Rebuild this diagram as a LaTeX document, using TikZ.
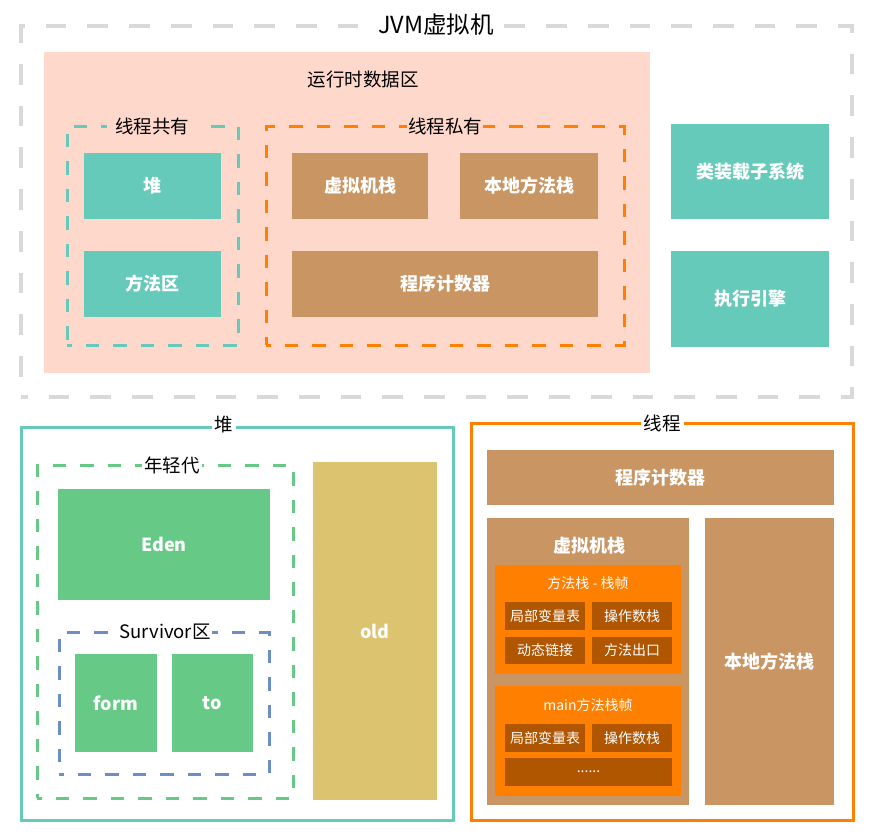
\documentclass[tikz,border=0pt]{standalone}
\usepackage{fontspec}
\setmainfont{Noto Sans CJK SC}
\definecolor{jgray}{HTML}{D9D9D9}
\definecolor{jpink}{HTML}{FFD8CC}
\definecolor{jteal}{HTML}{66CABB}
\definecolor{jorange}{HTML}{FF7F00}
\definecolor{jbrown}{HTML}{C99563}
\definecolor{jdark}{HTML}{B05500}
\definecolor{jgreen}{HTML}{66C986}
\definecolor{jmustard}{HTML}{DBC36F}
\definecolor{jblue}{HTML}{6C8EC6}
\begin{document}
\begin{tikzpicture}[x=1pt,y=-1pt,
  area/.style={draw=none,inner sep=0pt,outer sep=0pt,anchor=north west},
  filled/.style={area,text=white,font=\bfseries\fontsize{18}{20}\selectfont,align=center},
  tealbox/.style={filled,fill=jteal},
  brownbox/.style={filled,fill=jbrown},
  greenbox/.style={filled,fill=jgreen},
  framebox/.style={area,fill=jorange},
  cellbox/.style={area,fill=jdark,text=white,font=\fontsize{14}{16}\selectfont},
  frametitle/.style={text=white,font=\fontsize{14}{16}\selectfont,inner sep=0pt},
  titlelab/.style={text=black,font=\fontsize{18.5}{20}\selectfont,inner xsep=3pt,inner ysep=1pt},
  graydash/.style={area,draw=jgray,line width=4pt,dash pattern=on 20.7pt off 21pt,dash phase=14pt},
  innerdash/.style={area,line width=3pt,dash pattern=on 13.5pt off 14pt,dash phase=9pt},
]
\useasboundingbox (0,0) rectangle (871,835);
% ---------- JVM ----------
\node[graydash,minimum width=831pt,minimum height=371pt] (jvm) at (21,26) {};
\node[titlelab,fill=white,inner xsep=6pt,font=\fontsize{23.5}{26}\selectfont] (jvmt) at (436,25) {JVM虚拟机};
\node[area,fill=jpink,minimum width=606pt,minimum height=321pt] (rt) at (44,52) {};
\node[text=black,font=\fontsize{18.5}{20}\selectfont] (rtt) at (363,79) {运行时数据区};
\node[innerdash,draw=jteal,minimum width=171pt,minimum height=219pt] (shared) at (67,126) {};
\node[titlelab,fill=jpink,inner xsep=8pt] (sharedt) at (152,126) {线程共有};
\node[tealbox,minimum width=137pt,minimum height=66pt] (heap) at (84,153) {堆};
\node[tealbox,minimum width=137pt,minimum height=66pt] (method) at (84,251) {方法区};
\node[innerdash,draw=jorange,minimum width=358pt,minimum height=219pt] (private) at (266,126) {};
\node[titlelab,fill=jpink,inner xsep=1pt] (privatet) at (445,126) {线程私有};
\node[brownbox,minimum width=136pt,minimum height=66pt] (vms) at (292,153) {虚拟机栈};
\node[brownbox,minimum width=138pt,minimum height=66pt] (nms) at (460,153) {本地方法栈};
\node[brownbox,minimum width=306pt,minimum height=66pt] (pc) at (292,251) {程序计数器};
\node[tealbox,minimum width=158pt,minimum height=95pt] (loader) at (671,124) {类装载子系统};
\node[tealbox,minimum width=158pt,minimum height=96pt] (engine) at (671,251) {执行引擎};
% ---------- Heap ----------
\node[area,draw=jteal,line width=3pt,minimum width=432pt,minimum height=393pt] (hp) at (21,427) {};
\node[titlelab,fill=white,inner xsep=3pt] (hpt) at (224,425) {堆};
\node[innerdash,draw=jgreen,minimum width=256pt,minimum height=333pt] (young) at (37,465) {};
\node[titlelab,fill=white,inner xsep=2pt] (youngt) at (172,465) {年轻代};
\node[greenbox,minimum width=212pt,minimum height=111pt] (eden) at (58,489) {Eden};
\node[innerdash,draw=jblue,minimum width=210pt,minimum height=142pt] (surv) at (59,632) {};
\node[titlelab,fill=white,inner xsep=1pt] (survt) at (165,632) {Survivor区};
\node[greenbox,minimum width=82pt,minimum height=98pt] (from) at (75,654) {form};
\node[greenbox,minimum width=81pt,minimum height=98pt] (to) at (172,654) {to};
\node[filled,fill=jmustard,minimum width=124pt,minimum height=338pt] (old) at (313,462) {old};
% ---------- Thread ----------
\node[area,draw=jorange,line width=3pt,minimum width=382pt,minimum height=397pt] (th) at (471,423) {};
\node[titlelab,fill=white,inner xsep=3pt] (tht) at (662,423) {线程};
\node[brownbox,minimum width=347pt,minimum height=55pt] (pc2) at (487,450) {程序计数器};
\node[area,fill=jbrown,minimum width=202pt,minimum height=287pt] (vms2) at (487,518) {};
\node[text=white,font=\bfseries\fontsize{18}{20}\selectfont] (vms2t) at (589,546) {虚拟机栈};
\node[brownbox,minimum width=129pt,minimum height=287pt] (nms2) at (705,518) {本地方法栈};
\node[framebox,minimum width=186pt,minimum height=109pt] (f1) at (495,565) {};
\node[frametitle] (f1t) at (588,583) {方法栈 - 栈帧};
\node[cellbox,minimum width=80pt,minimum height=28pt] (f1a) at (505,602) {局部变量表};
\node[cellbox,minimum width=80pt,minimum height=28pt] (f1b) at (592,602) {操作数栈};
\node[cellbox,minimum width=80pt,minimum height=27pt] (f1c) at (505,637) {动态链接};
\node[cellbox,minimum width=80pt,minimum height=27pt] (f1d) at (592,637) {方法出口};
\node[framebox,minimum width=186pt,minimum height=110pt] (f2) at (495,686) {};
\node[frametitle] (f2t) at (588,705) {main方法栈帧};
\node[cellbox,minimum width=80pt,minimum height=28pt] (f2a) at (505,724) {局部变量表};
\node[cellbox,minimum width=80pt,minimum height=28pt] (f2b) at (592,724) {操作数栈};
\node[cellbox,minimum width=167pt,minimum height=28pt] (f2c) at (505,758) {......};
\end{tikzpicture}
\end{document}
